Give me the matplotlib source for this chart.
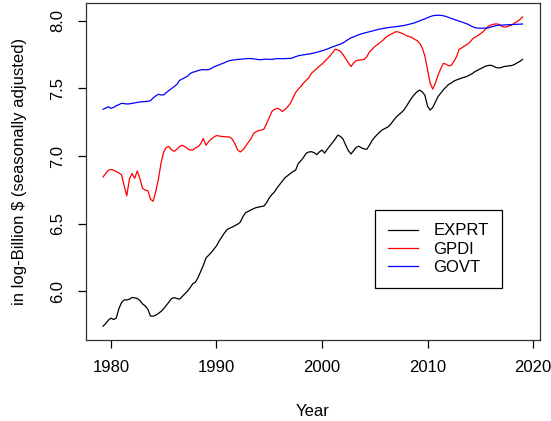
import numpy as np
import matplotlib
matplotlib.use("Agg")
from matplotlib import pyplot as plt

plt.rcParams["font.family"] = ["Liberation Sans", "DejaVu Sans"]

# quarterly, 1979Q2 .. 2019Q1
years = 1979.25 + 0.25 * np.arange(160)

exprt = [
    5.74, 5.76, 5.785,
    5.80, 5.79, 5.80, 5.87,
    5.915, 5.935, 5.935, 5.94,
    5.953, 5.95, 5.945, 5.93,
    5.905, 5.89, 5.865, 5.815,
    5.815, 5.822, 5.835, 5.85,
    5.87, 5.895, 5.92, 5.945,
    5.952, 5.945, 5.94, 5.96,
    5.98, 6.00, 6.025, 6.055,
    6.065, 6.10, 6.145, 6.19,
    6.245, 6.265, 6.285, 6.31,
    6.335, 6.37, 6.40, 6.43,
    6.455, 6.466, 6.474, 6.485,
    6.495, 6.51, 6.55, 6.58,
    6.59, 6.60, 6.61, 6.618,
    6.622, 6.626, 6.63, 6.655,
    6.69, 6.715, 6.735, 6.765,
    6.79, 6.815, 6.84, 6.855,
    6.87, 6.885, 6.895, 6.945,
    6.965, 6.99, 7.02, 7.03,
    7.032, 7.025, 7.01, 7.03,
    7.044, 7.022, 7.05, 7.075,
    7.10, 7.125, 7.155, 7.145,
    7.125, 7.08, 7.04, 7.015,
    7.04, 7.065, 7.072, 7.06,
    7.052, 7.05, 7.08, 7.115,
    7.14, 7.16, 7.18, 7.195,
    7.205, 7.215, 7.235, 7.26,
    7.285, 7.304, 7.32, 7.34,
    7.368, 7.40, 7.43, 7.455,
    7.475, 7.488, 7.475, 7.45,
    7.37, 7.34, 7.36, 7.40,
    7.44, 7.465, 7.49, 7.51,
    7.53, 7.54, 7.555, 7.563,
    7.57, 7.578, 7.583, 7.59,
    7.60, 7.61, 7.625, 7.635,
    7.645, 7.655, 7.665, 7.67,
    7.672, 7.665, 7.655, 7.652,
    7.655, 7.662, 7.665, 7.668,
    7.67, 7.678, 7.69, 7.70,
    7.715,
]

gpdi = [
    6.845, 6.87, 6.895,
    6.90, 6.895, 6.885, 6.875,
    6.86, 6.78, 6.705, 6.83,
    6.87, 6.835, 6.89, 6.83,
    6.76, 6.748, 6.743, 6.68,
    6.665, 6.74, 6.83, 6.95,
    7.03, 7.065, 7.07, 7.045,
    7.035, 7.05, 7.07, 7.08,
    7.07, 7.055, 7.045, 7.045,
    7.06, 7.068, 7.09, 7.13,
    7.08, 7.105, 7.125, 7.14,
    7.152, 7.148, 7.145, 7.143,
    7.142, 7.14, 7.125, 7.09,
    7.045, 7.03, 7.045, 7.07,
    7.10, 7.125, 7.165, 7.18,
    7.188, 7.192, 7.20, 7.24,
    7.285, 7.33, 7.345, 7.353,
    7.345, 7.33, 7.345, 7.365,
    7.39, 7.43, 7.47, 7.495,
    7.515, 7.54, 7.56, 7.58,
    7.612, 7.63, 7.648, 7.665,
    7.68, 7.70, 7.72, 7.74,
    7.765, 7.79, 7.785, 7.775,
    7.75, 7.72, 7.69, 7.662,
    7.69, 7.705, 7.71, 7.712,
    7.715, 7.735, 7.77, 7.79,
    7.81, 7.825, 7.84, 7.855,
    7.875, 7.89, 7.90, 7.91,
    7.92, 7.918, 7.91, 7.902,
    7.89, 7.885, 7.878, 7.865,
    7.855, 7.835, 7.80, 7.74,
    7.64, 7.54, 7.495, 7.54,
    7.60, 7.645, 7.686, 7.68,
    7.668, 7.672, 7.70, 7.735,
    7.79, 7.80, 7.815, 7.825,
    7.84, 7.865, 7.88, 7.89,
    7.905, 7.918, 7.94, 7.96,
    7.97, 7.975, 7.978, 7.975,
    7.962, 7.955, 7.955, 7.965,
    7.97, 7.985, 7.995, 8.01,
    8.03,
]

govt = [
    7.346, 7.355, 7.365,
    7.353, 7.36, 7.372, 7.38,
    7.39, 7.388, 7.385, 7.386,
    7.39, 7.393, 7.397, 7.40,
    7.402, 7.403, 7.405, 7.41,
    7.43, 7.445, 7.457, 7.452,
    7.452, 7.47, 7.485, 7.50,
    7.515, 7.53, 7.56, 7.57,
    7.58, 7.59, 7.61, 7.62,
    7.625, 7.632, 7.637, 7.64,
    7.638, 7.64, 7.648, 7.66,
    7.667, 7.675, 7.683, 7.69,
    7.70, 7.706, 7.71, 7.712,
    7.715, 7.716, 7.718, 7.72,
    7.722, 7.721, 7.72, 7.716,
    7.714, 7.713, 7.716, 7.717,
    7.716, 7.715, 7.718, 7.721,
    7.721, 7.72, 7.721, 7.722,
    7.722, 7.728, 7.735, 7.742,
    7.746, 7.749, 7.752, 7.755,
    7.758, 7.763, 7.768, 7.773,
    7.779, 7.785, 7.792, 7.80,
    7.808, 7.815, 7.822, 7.828,
    7.838, 7.85, 7.863, 7.875,
    7.882, 7.89, 7.898, 7.905,
    7.91, 7.915, 7.92, 7.925,
    7.93, 7.936, 7.94, 7.943,
    7.947, 7.95, 7.953, 7.955,
    7.958, 7.96, 7.963, 7.966,
    7.97, 7.975, 7.98, 7.985,
    7.993, 8.00, 8.008, 8.015,
    8.024, 8.032, 8.038, 8.041,
    8.042, 8.041, 8.038, 8.033,
    8.026, 8.018, 8.012, 8.005,
    7.998, 7.992, 7.985, 7.978,
    7.968, 7.958, 7.95, 7.947,
    7.946, 7.946, 7.947, 7.948,
    7.955, 7.96, 7.965, 7.968,
    7.969, 7.97, 7.971, 7.972,
    7.973, 7.974, 7.975, 7.976,
    7.977,
]

names = ["EXPRT", "GPDI", "GOVT"]
colors = ["black", "red", "blue"]
xticks = [1980, 1990, 2000, 2010, 2020]
yticks = [6.0, 6.5, 7.0, 7.5, 8.0]

fig = plt.figure(figsize=(5.51, 4.21), dpi=100)
ax = fig.add_axes([0.156, 0.192, 0.824, 0.801])

for s, name, c in zip([exprt, gpdi, govt], names, colors):
    ax.plot(years, s, color=c, lw=0.9, label=name)

ax.set_xlim(1977.63, 2020.66)
ax.set_ylim(5.637, 8.133)
ax.set_xticks(xticks)
ax.set_yticks(yticks)
ax.set_yticklabels(["%.1f" % v for v in yticks], rotation=90, va="center")
ax.tick_params(direction="out", length=6, width=0.9, labelsize=12, colors="black")
ax.tick_params(axis="x", pad=8)
ax.tick_params(axis="y", pad=9)
for sp in ax.spines.values():
    sp.set_linewidth(0.9)
    sp.set_color("#333333")

ax.set_xlabel("Year", fontsize=12, labelpad=21)
ax.set_ylabel("in log-Billion \\$ (seasonally adjusted)", fontsize=12, labelpad=17)

leg = ax.legend(loc="upper left", bbox_to_anchor=(0.6366, 0.3858), borderaxespad=0,
                fancybox=False, edgecolor="black", framealpha=1, fontsize=12,
                handlelength=1.8, handletextpad=0.9, labelspacing=0.2,
                borderpad=0.8)
leg.get_frame().set_linewidth(0.9)

fig.savefig("out.png", dpi=100)
